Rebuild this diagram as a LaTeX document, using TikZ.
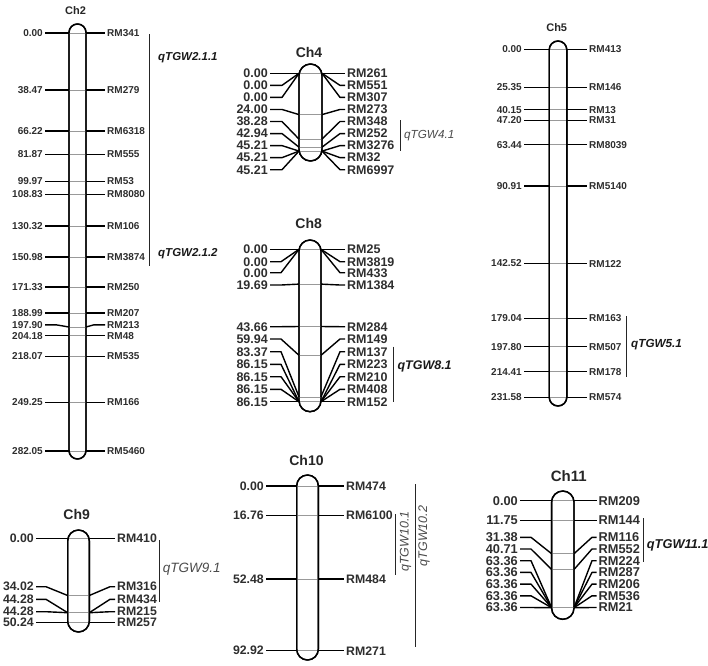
\documentclass[tikz,border=0pt]{standalone}
\usepackage{fontspec}
\setmainfont{Liberation Sans}
\usetikzlibrary{positioning}

\definecolor{lblgray}{HTML}{2E2E2E}
\definecolor{qtlgray}{HTML}{4A4A4A}

\tikzset{
  chrom/.style={line width=1.4pt, fill=white},
  mline/.style={line width=1.4pt, line join=round},
  innerline/.style={black!40, line width=0.5pt},
  qbar/.style={line width=0.8pt, black!85},
  lbl/.style={inner sep=0pt, text=lblgray},
  ttl/.style={inner sep=0pt, text=black!85, font=\bfseries\fontsize{14}{14}\selectfont},
  qlab/.style={inner sep=0pt, anchor=west, text=qtlgray, font=\itshape\fontsize{12}{12}\selectfont},
  qlabb/.style={inner sep=0pt, anchor=west, text=black!90, font=\bfseries\itshape\fontsize{12}{12}\selectfont},
}

% #1 id, #2 centre x, #3 half width, #4 top, #5 bottom, #6 markers (label y/chrom y/cM/name)
% \la \lb \rb \ra = x of the bends of the marker lines
\newcommand{\linkgroup}[6]{%
  \draw[chrom, rounded corners=#3pt] (#2-#3,#4) rectangle (#2+#3,#5);
  \foreach \ly/\cy/\dist/\mname [count=\i] in {#6}{
    \draw[innerline] (#2-#3,\cy) -- (#2+#3,\cy);
    \draw[mline] (\la,\ly) -- (\lb,\ly) -- (#2-#3,\cy);
    \draw[mline] (#2+#3,\cy) -- (\rb,\ly) -- (\ra,\ly);
    \node[lbl, anchor=east] (#1l\i) at (\la-2,\ly) {\dist};
    \node[lbl, anchor=west] (#1r\i) at (\ra+2,\ly) {\mname};
  }
  \draw[chrom, fill=none, rounded corners=#3pt] (#2-#3,#4) rectangle (#2+#3,#5);
}

\begin{document}
\begin{tikzpicture}[x=1pt, y=-1pt]
  \useasboundingbox (0,0) rectangle (708,665);

  % Ch2
  \begin{scope}[font=\bfseries\fontsize{10}{10}\selectfont]
    \def\la{45}\def\lb{56}\def\rb{94}\def\ra{105}
    \node[ttl, font=\bfseries\fontsize{11}{11}\selectfont] (t2) at (75.5,11) {Ch2};
    \linkgroup{c2}{77.5}{8.5}{24}{459}{33/33/0.00/RM341, 90/90/38.47/RM279,
      131.1/131.1/66.22/RM6318, 154.3/154.3/81.87/RM555, 181.2/181.2/99.97/RM53,
      194.3/194.3/108.83/RM8080, 226.1/226.1/130.32/RM106, 256.8/256.8/150.98/RM3874,
      286.9/286.9/171.33/RM250, 313.1/313.1/188.99/RM207, 324.8/327/197.90/RM213,
      335.6/335.6/204.18/RM48, 356.2/356.2/218.07/RM535, 402.4/402.4/249.25/RM166,
      451/451/282.05/RM5460}
  \end{scope}
  \draw[qbar] (149,34) -- (149,266);
  \node[qlabb, font=\bfseries\itshape\fontsize{11.5}{11.5}\selectfont] (q2a) at (158,58) {qTGW2.1.1};
  \node[qlabb, font=\bfseries\itshape\fontsize{11.5}{11.5}\selectfont] (q2b) at (158,253.3) {qTGW2.1.2};

  % Ch4
  \begin{scope}[font=\bfseries\fontsize{12.5}{12.5}\selectfont]
    \def\la{270}\def\lb{282}\def\rb{340}\def\ra{345}
    \node[ttl] (t4) at (309,52) {Ch4};
    \linkgroup{c4}{310.5}{11.5}{64}{161}{73.3/73.3/0.00/RM261, 85.35/73.3/0.00/RM551,
      97.4/73.3/0.00/RM307, 109.45/114.6/24.00/RM273, 121.5/139.1/38.28/RM348,
      133.55/147.2/42.94/RM252, 145.6/151.1/45.21/RM3276, 157.65/151.1/45.21/RM32,
      169.7/151.1/45.21/RM6997}
  \end{scope}
  \draw[qbar] (400,120) -- (400,151);
  \node[qlab, font=\itshape\fontsize{11.7}{11.7}\selectfont] (q4) at (404,135.7) {qTGW4.1};

  % Ch8
  \begin{scope}[font=\bfseries\fontsize{12.5}{12.5}\selectfont]
    \def\la{270}\def\lb{281}\def\rb{340}\def\ra{345}
    \node[ttl] (t8) at (308.7,223.3) {Ch8};
    \linkgroup{c8}{310}{11}{240}{411.7}{249.3/249.3/0.00/RM25, 261.7/249.3/0.00/RM3819,
      272.7/249.3/0.00/RM433, 285/284.1/19.69/RM1384, 326.7/326.5/43.66/RM284,
      339/355.3/59.94/RM149, 351.7/396.8/83.37/RM137, 364.3/401.7/86.15/RM223,
      376.7/401.7/86.15/RM210, 389.3/401.7/86.15/RM408, 401.7/401.7/86.15/RM152}
  \end{scope}
  \draw[qbar] (393.3,346.7) -- (393.3,401.7);
  \node[qlabb, font=\bfseries\itshape\fontsize{12.5}{12.5}\selectfont] (q8) at (397.3,366.7) {qTGW8.1};

  % Ch5
  \begin{scope}[font=\bfseries\fontsize{10}{10}\selectfont]
    \def\la{524}\def\lb{535}\def\rb{578}\def\ra{587}
    \node[ttl, font=\bfseries\fontsize{11}{11}\selectfont] (t5) at (556.7,27.3) {Ch5};
    \linkgroup{c5}{558}{8.8}{41}{406}{49.3/49.3/0.00/RM413, 87.4/87.4/25.35/RM146,
      109.6/109.6/40.15/RM13, 120.2/120.2/47.20/RM31, 144.6/144.6/63.44/RM8039,
      185.9/185.9/90.91/RM5140, 263.5/263.5/142.52/RM122, 318.4/318.4/179.04/RM163,
      346.6/346.6/197.80/RM507, 371.6/371.6/214.41/RM178, 397.4/397.4/231.58/RM574}
  \end{scope}
  \draw[qbar] (626.7,316) -- (626.7,377.3);
  \node[qlabb, font=\bfseries\itshape\fontsize{11.7}{11.7}\selectfont] (q5) at (631,345) {qTGW5.1};

  % Ch9
  \begin{scope}[font=\bfseries\fontsize{12.3}{12.3}\selectfont]
    \def\la{36}\def\lb{46}\def\rb{110}\def\ra{115}
    \node[ttl] (t9) at (76.7,514.3) {Ch9};
    \linkgroup{c9}{78.5}{10.8}{530}{632}{538.3/538.3/0.00/RM410, 586.7/595.5/34.02/RM316,
      599.3/612.7/44.28/RM434, 611.7/612.7/44.28/RM215, 622.7/622.7/50.24/RM257}
  \end{scope}
  \draw[qbar] (159.3,540) -- (159.3,601.7);
  \node[qlab, font=\itshape\fontsize{13.5}{13.5}\selectfont] (q9) at (162.7,569.3) {qTGW9.1};

  % Ch10
  \begin{scope}[font=\bfseries\fontsize{12.3}{12.3}\selectfont]
    \def\la{266}\def\lb{280}\def\rb{335}\def\ra{344}
    \node[ttl] (t10) at (306.5,460.7) {Ch10};
    \linkgroup{c10}{307.5}{10.8}{475}{660}{486/486/0.00/RM474, 515.7/515.7/16.76/RM6100,
      579/579/52.48/RM484, 650.7/650.7/92.92/RM271}
  \end{scope}
  \draw[qbar] (395.7,514) -- (395.7,575);
  \draw[qbar] (415.7,484.3) -- (415.7,646.7);
  \node[qlab, anchor=center, rotate=90, font=\itshape\fontsize{12.5}{12.5}\selectfont] (q10a) at (405.5,541.5) {qTGW10.1};
  \node[qlab, anchor=center, rotate=90, font=\itshape\fontsize{12.5}{12.5}\selectfont] (q10b) at (424,536) {qTGW10.2};

  % Ch11
  \begin{scope}[font=\bfseries\fontsize{12.8}{12.8}\selectfont]
    \def\la{520}\def\lb{531}\def\rb{592}\def\ra{596.5}
    \node[ttl, font=\bfseries\fontsize{15}{15}\selectfont] (t11) at (568.7,476) {Ch11};
    \linkgroup{c11}{562.8}{11.2}{491}{619.3}{500.7/500.7/0.00/RM209, 520.5/520.5/11.75/RM144,
      537.3/553.7/31.38/RM116, 549/569.5/40.71/RM552, 560.7/607.7/63.36/RM224,
      572.4/607.7/63.36/RM287, 584.1/607.7/63.36/RM206, 595.8/607.7/63.36/RM536,
      607.5/607.7/63.36/RM21}
  \end{scope}
  \draw[qbar] (643.3,518.3) -- (643.3,561.7);
  \node[qlabb, font=\bfseries\itshape\fontsize{12.8}{12.8}\selectfont] (q11) at (646.7,545) {qTGW11.1};
\end{tikzpicture}
\end{document}
